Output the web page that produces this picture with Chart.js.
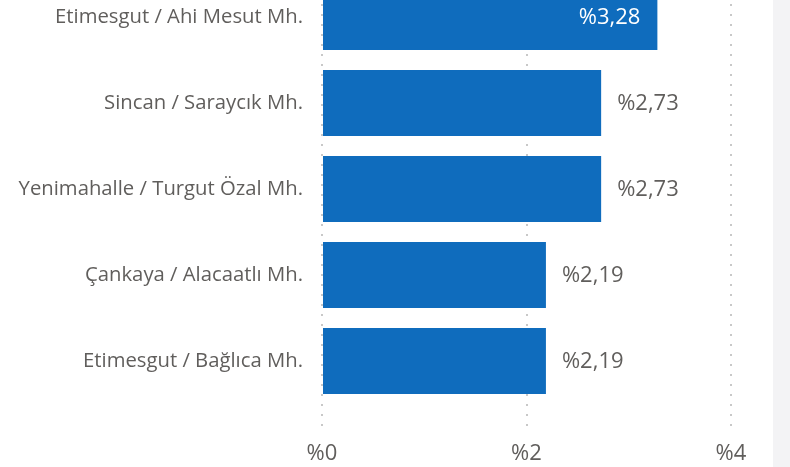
<!DOCTYPE html>
<html>
<head>
<meta charset="utf-8">
<script src="https://cdn.jsdelivr.net/npm/chart.js@4.4.0/dist/chart.umd.min.js"></script>
<style>
  html, body { margin: 0; padding: 0; background: #f3f3f5; overflow: hidden; }
  #wrap { position: absolute; left: 0; top: -26px; width: 773px; height: 493px; background: #fff; }
</style>
</head>
<body>
<div id="wrap"><canvas id="barChart"></canvas></div>
<script>
// data
var labels = ["Etimesgut / Ahi Mesut Mh.", "Sincan / Saraycık Mh.", "Yenimahalle / Turgut Özal Mh.", "Çankaya / Alacaatlı Mh.", "Etimesgut / Bağlıca Mh."];
var values = [3.28, 2.73, 2.73, 2.19, 2.19];
var xTicks = [0, 2, 4];

var textColor = "#605e5c";
var barColor = "#0f6cbd";
var fontFamily = "'Open Sans', sans-serif";

function pct(v) {
    return "%" + String(v).replace(".", ",");
}

// value labels: outside the bar, or inside if no room
var valueLabels = {
    id: "valueLabels",
    afterDatasetsDraw: function(chart) {
        var ctx = chart.ctx;
        var meta = chart.getDatasetMeta(0);
        var area = chart.chartArea;
        ctx.save();
        ctx.font = "22px " + fontFamily;
        ctx.textBaseline = "middle";
        meta.data.forEach(function(bar, i) {
            var txt = pct(values[i]);
            var w = ctx.measureText(txt).width;
            if (bar.x + 16 + w > area.right) {
                ctx.fillStyle = "#ffffff";
                ctx.textAlign = "right";
                ctx.fillText(txt, bar.x - 17, bar.y + 1);
            } else {
                ctx.fillStyle = textColor;
                ctx.textAlign = "left";
                ctx.fillText(txt, bar.x + 16, bar.y + 1);
            }
        });
        ctx.restore();
    }
};

function chart() {
    var ctx = document.getElementById("barChart").getContext("2d");
    var myBarChart = new Chart(ctx, {
        type: "bar",
        data: {
            labels: labels,
            datasets: [{
                data: values,
                backgroundColor: barColor,
                borderWidth: 0,
                barPercentage: 0.77,
                categoryPercentage: 1
            }]
        },
        options: {
            indexAxis: "y",
            responsive: true,
            maintainAspectRatio: false,
            animation: false,
            layout: { padding: { top: 0, right: 42, bottom: 0, left: 0 } },
            plugins: {
                legend: { display: false },
                tooltip: { enabled: false }
            },
            scales: {
                x: {
                    min: 0,
                    max: 4,
                    afterBuildTicks: function(scale) {
                        scale.ticks = xTicks.map(function(v) { return { value: v }; });
                    },
                    afterFit: function(scale) { scale.height = 63; },
                    border: { display: false, dash: [2, 8] },
                    grid: {
                        color: "#c8c8c8",
                        lineWidth: 2,
                        drawTicks: true,
                        tickLength: 27,
                        tickColor: "#c8c8c8",
                        tickBorderDash: [2, 8]
                    },
                    ticks: {
                        color: textColor,
                        font: { family: fontFamily, size: 22 },
                        padding: 10,
                        callback: function(v) { return pct(v); }
                    }
                },
                y: {
                    border: { display: false },
                    grid: { display: false, drawTicks: false },
                    afterFit: function(scale) {
                        scale.width = 322;
                        scale.paddingTop = 0;
                        scale.paddingBottom = 0;
                    },
                    ticks: {
                        color: textColor,
                        font: { family: fontFamily, size: 20.3 },
                        padding: 19
                    }
                }
            }
        },
        plugins: [valueLabels]
    });
    return myBarChart;
}

chart();
</script>
</body>
</html>
